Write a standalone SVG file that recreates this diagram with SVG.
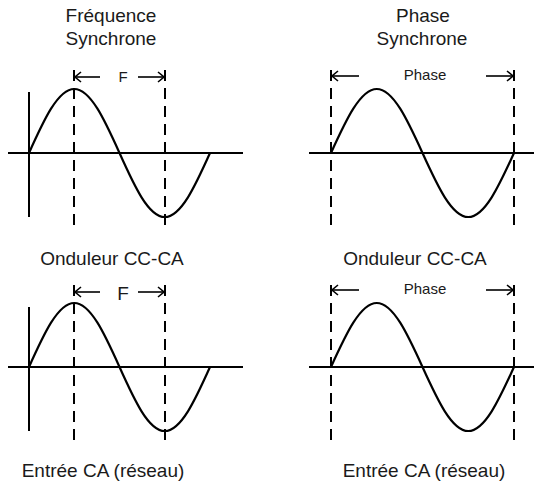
<svg xmlns="http://www.w3.org/2000/svg" width="534" height="484" viewBox="0 0 534 484">
<style>
  .t { font-family: "Liberation Sans", Arial, sans-serif; fill: #1a1a1a; text-anchor: middle; }
  .big { font-size: 19px; }
  .sm { font-size: 15px; }
  .ax { stroke: #000; stroke-width: 2; fill: none; }
  .wave { stroke: #000; stroke-width: 2.2; fill: none; stroke-linejoin: round; }
  .dash { stroke: #000; stroke-width: 2; fill: none; stroke-dasharray: 11 7; }
  .arr { stroke: #000; stroke-width: 1.6; fill: none; marker-end: url(#ah); }
</style>
<defs>
  <marker id="ah" viewBox="0 0 8 12" refX="7" refY="6" markerWidth="8" markerHeight="12" markerUnits="userSpaceOnUse" orient="auto">
    <path d="M1,1 L7,6 L1,11" fill="none" stroke="#000" stroke-width="1.6"/>
  </marker>
  <path id="sineL" d="M29,153 C43.76,120.2 57.95,89 74.25,89 C90.55,89 104.74,120.2 119.5,153 C134.26,185.8 148.45,217 164.75,217 C181.05,217 195.24,185.8 210,153"/>
  <path id="sineR" d="M331,153 C345.9,120.2 360.3,89 376.75,89 C393.2,89 407.6,120.2 422.5,153 C437.4,185.8 451.8,217 468.25,217 C484.7,217 499.1,185.8 514,153"/>
</defs>

<g id="title-left">
  <text class="t big" x="111" y="22">Fréquence</text>
  <text class="t big" x="111" y="45">Synchrone</text>
</g>
<g id="title-right">
  <text class="t big" x="423" y="22">Phase</text>
  <text class="t big" x="422" y="45">Synchrone</text>
</g>

<g id="panel-top-left">
  <line class="ax" x1="8" y1="153" x2="243" y2="153"/>
  <line class="ax" x1="29" y1="92" x2="29" y2="217"/>
  <use href="#sineL" class="wave"/>
  <line class="dash" x1="74" y1="70" x2="74" y2="231"/>
  <line class="dash" x1="165" y1="70" x2="165" y2="231"/>
  <text class="t sm" x="123" y="82">F</text>
</g>

<g id="panel-top-right">
  <line class="ax" x1="309" y1="153" x2="534" y2="153"/>
  <use href="#sineR" class="wave"/>
  <line class="dash" x1="331" y1="70" x2="331" y2="231"/>
  <line class="dash" x1="514" y1="70" x2="514" y2="231"/>
  <text class="t sm" x="425" y="80">Phase</text>
</g>

<g id="label-left-mid"><text class="t big" x="112" y="265">Onduleur CC-CA</text></g>
<g id="label-right-mid"><text class="t big" x="415" y="265">Onduleur CC-CA</text></g>

<g id="panel-bottom-left" transform="translate(0,214)">
  <line class="ax" x1="8" y1="153" x2="243" y2="153"/>
  <line class="ax" x1="29" y1="93" x2="29" y2="217"/>
  <use href="#sineL" class="wave"/>
  <line class="dash" x1="74" y1="71" x2="74" y2="231"/>
  <line class="dash" x1="165" y1="71" x2="165" y2="231"/>
  <text class="t big" x="123" y="86">F</text>
</g>

<g id="panel-bottom-right" transform="translate(0,214)">
  <line class="ax" x1="309" y1="153" x2="534" y2="153"/>
  <use href="#sineR" class="wave"/>
  <line class="dash" x1="331" y1="71" x2="331" y2="231"/>
  <line class="dash" x1="514" y1="71" x2="514" y2="231"/>
  <text class="t sm" x="425" y="80">Phase</text>
</g>

<g id="label-left-bottom"><text class="t big" x="103" y="477">Entrée CA (réseau)</text></g>
<g id="label-right-bottom"><text class="t big" x="424" y="477">Entrée CA (réseau)</text></g>

<g id="connectors">
  <line class="arr" x1="100" y1="77" x2="75" y2="77"/>
  <line class="arr" x1="138" y1="77" x2="164" y2="77"/>
  <line class="arr" x1="359" y1="76" x2="332" y2="76"/>
  <line class="arr" x1="486" y1="76" x2="513" y2="76"/>
  <line class="arr" x1="100" y1="292" x2="75" y2="292"/>
  <line class="arr" x1="138" y1="292" x2="164" y2="292"/>
  <line class="arr" x1="359" y1="290" x2="332" y2="290"/>
  <line class="arr" x1="486" y1="290" x2="513" y2="290"/>
</g>
</svg>
